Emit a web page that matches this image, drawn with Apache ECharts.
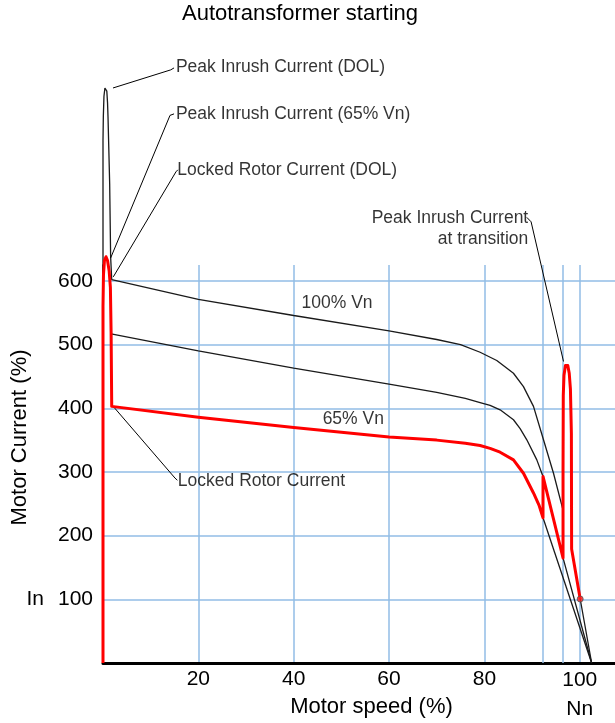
<!DOCTYPE html>
<html><head><meta charset="utf-8">
<script src="https://cdn.jsdelivr.net/npm/echarts@6/dist/echarts.min.js"></script>
<style>html,body{margin:0;padding:0;background:#fff}#c{width:615px;height:723px}</style>
</head><body><div id="c"></div>
<script>
const FONT = '"Liberation Sans", Arial, Helvetica, sans-serif';
const GRID_BLUE = '#92bce6';

// 100% Vn (DOL) current curve (null = hidden behind the transition peak)
const dolSpeed   = [0, 0, 0, 0.07, 0.2, 0.4, 0.63, 0.8, 0.95, 1.05, 1.4, 1.6, 1.83, 20, 40, 60, 70, 75, 79.1, 82.6, 86.1, 88.2, 90.3, 92.4, 94.5, 96.5, 97.4, 98.3, 100.1, 102.5];
const dolCurrent = [0, 600, 820, 858, 890, 903, 906, 898, 880, 858, 753, 638, 602, 571, 545.7, 521.7, 508, 500, 488, 475, 455, 434, 403, 350.5, 298, 240, null, 179, 100.5, 0];

// intermediate-voltage curve (after first transition)
const midSpeed   = [1.7, 20, 40, 60, 70, 76, 79.1, 81.2, 83.3, 86.1, 87.5, 88.9, 91, 92.3, 96.5, 102.5];
const midCurrent = [517, 490, 463, 438, 425, 415.5, 409, 404.5, 397.6, 382, 368, 350.5, 319, 293, 165, 0];

// 65% Vn curve continuation beyond the first transition
const lowTailSpeed   = [92.3, 102.5];
const lowTailCurrent = [228, 0];

// actual autotransformer starting current (red)
const redSpeed   = [0, 0, 0.1, 0.3, 0.63, 0.95, 1.3, 1.55, 1.7, 1.83, 20, 40, 60, 70, 76, 79.1, 81.2, 83.3, 86.1, 88.2, 90.3, 91.5, 92.3, 92.3, 96.5, 96.5, 96.55, 96.7, 97.0, 97.2, 97.5, 97.8, 98.05, 98.25, 98.3, 100.1];
const redCurrent = [0, 560, 610, 632, 638, 632, 615, 590, 520, 403, 386, 370, 355, 350, 345, 341.5, 337, 331, 319, 298, 267, 247, 228, 293, 165, 300, 420, 452, 467, 470, 467, 455, 430, 360, 179, 100.5];

// transition speeds (extra vertical grid lines)
const transitionSpeeds = [92.3, 96.5];

// axis ticks
const xTickStep = 20, yTickStep = 100;
const xMax = 107.4, yMax = 625;

// annotation leader lines (speed, current)
const leaderLines = [
  [[2.1, 903], [14.2, 931.4], [14.9, 934.5]],
  [[1.6, 636], [14.06, 860], [14.9, 862.3]],
  [[2.16, 606.4], [15.3, 771.3], [15.7, 774.5]],
  [[2.16, 402.8], [15.1, 290.4], [15.6, 287]],
  [[96.6, 473.5], [89.8, 692.8], [88.9, 699.8]]
];
// annotation texts
const annoRight = [
  {name: 'Peak Inrush Current (DOL)', at: [15.3, 935.6]},
  {name: 'Peak Inrush Current (65% Vn)', at: [15.3, 862.3]},
  {name: 'Locked Rotor Current (DOL)', at: [15.6, 774.4]},
  {name: 'Locked Rotor Current', at: [15.7, 286.2]}
];
const annoLeft = [{name: 'Peak Inrush Current\nat transition', at: [89.2, 682.6]}];
const annoCenter = [
  {name: '100% Vn', at: [49.1, 565.4]},
  {name: '65% Vn', at: [52.5, 383.5]}
];

const zip = (xs, ys) => xs.map((x, i) => [x, ys[i]]);

const chart = echarts.init(document.getElementById('c'), null, {renderer: 'canvas'});

const thin = {color: '#1a1a1a', width: 1.3};
const series = [
  {type: 'line', name: 'DOL', data: zip(dolSpeed, dolCurrent), symbol: 'none', clip: false, z: 3,
   lineStyle: thin, connectNulls: false, silent: true},
  {type: 'line', name: 'mid', data: zip(midSpeed, midCurrent), symbol: 'none', clip: false, z: 3,
   lineStyle: thin, silent: true,
   markLine: {silent: true, z: 1, symbol: ['none', 'none'], label: {show: false},
     lineStyle: {color: GRID_BLUE, width: 1.5, type: 'solid'},
     data: transitionSpeeds.map(v => ({xAxis: v}))}},
  {type: 'line', name: 'lowTail', data: zip(lowTailSpeed, lowTailCurrent), symbol: 'none', clip: false, z: 3,
   lineStyle: thin, silent: true},
  {type: 'line', name: 'red', data: zip(redSpeed, redCurrent), symbol: 'none', clip: false, z: 5,
   lineStyle: {color: '#ff0000', width: 3, join: 'round'}, silent: true},
  {type: 'scatter', name: 'redEnd', data: [[redSpeed[redSpeed.length - 1], redCurrent[redCurrent.length - 1]]],
   symbolSize: 6, z: 6, clip: false, silent: true,
   itemStyle: {color: '#ff2020', borderColor: '#555', borderWidth: 1}}
];
leaderLines.forEach((pts, i) => series.push({
  type: 'line', name: 'leader' + i, data: pts, symbol: 'none', clip: false, z: 4, silent: true,
  lineStyle: {color: '#000', width: 1}
}));
const lblBase = {show: true, color: '#000', fontSize: 17.5, fontFamily: FONT, distance: 0};
series.push({
  type: 'scatter', name: 'annotations', symbolSize: 0, clip: false, z: 7, silent: true,
  itemStyle: {color: 'rgba(0,0,0,0)'},
  data: [].concat(
    annoRight.map(a => ({name: a.name, value: a.at, label: Object.assign({}, lblBase, {position: 'right', formatter: '{b}'})})),
    annoLeft.map(a => ({name: a.name, value: a.at, label: Object.assign({}, lblBase, {position: 'left', align: 'right', lineHeight: 21, formatter: '{b}'})})),
    annoCenter.map(a => ({name: a.name, value: a.at, label: Object.assign({}, lblBase, {position: 'inside', formatter: '{b}'})}))
  ),
  labelLayout: {hideOverlap: false}
});

chart.setOption({
  animation: false,
  backgroundColor: '#fff',
  title: {text: 'Autotransformer starting', left: 177, top: -2,
    textStyle: {fontSize: 22, fontWeight: 'normal', color: '#000', fontFamily: FONT}},
  grid: {left: 103, right: 0, top: 265, bottom: 60, containLabel: false, outerBoundsMode: 'none'},
  xAxis: {
    type: 'value', min: 0, max: xMax, interval: xTickStep,
    name: 'Motor speed (%)', nameLocation: 'middle', nameGap: 33, nameMoveOverlap: false,
    nameTextStyle: {fontSize: 22, color: '#000', fontFamily: FONT, padding: [0, 0, 0, 25]},
    axisLine: {show: true, lineStyle: {color: '#000', width: 3}},
    axisTick: {show: false},
    axisLabel: {fontSize: 21, color: '#000', fontFamily: FONT, margin: 6,
      formatter: v => v === 100 ? '{a|100}\n{b|Nn}' : ((v > 0 && v < 100 && v % xTickStep === 0) ? String(v) : ''),
      rich: {a: {fontSize: 21, lineHeight: 22, fontFamily: FONT, color: '#000'},
             b: {fontSize: 21, lineHeight: 36, fontFamily: FONT, color: '#000'}}},
    splitLine: {show: true, showMinLine: false, showMaxLine: false, lineStyle: {color: GRID_BLUE, width: 1.5}}
  },
  yAxis: {
    type: 'value', min: 0, max: yMax, interval: yTickStep,
    name: 'Motor Current (%)', nameLocation: 'middle', nameGap: 72, nameMoveOverlap: false,
    nameTextStyle: {fontSize: 22, color: '#000', fontFamily: FONT, padding: [0, 0, 0, 53]},
    axisLine: {show: true, lineStyle: {color: '#111', width: 1.5}},
    axisTick: {show: false},
    axisLabel: {fontSize: 21, color: '#000', fontFamily: FONT, margin: 10,
      formatter: v => v === 100 ? '{i|In}{n|100}' : ((v > 0 && v <= 600 && v % yTickStep === 0) ? String(v) : ''),
      rich: {i: {fontSize: 21, fontFamily: FONT, color: '#000', padding: [0, 14, 0, 0]},
             n: {fontSize: 21, fontFamily: FONT, color: '#000'}}},
    splitLine: {show: true, showMinLine: false, showMaxLine: false, lineStyle: {color: GRID_BLUE, width: 1.5}}
  },
  series: series
});
</script></body></html>
